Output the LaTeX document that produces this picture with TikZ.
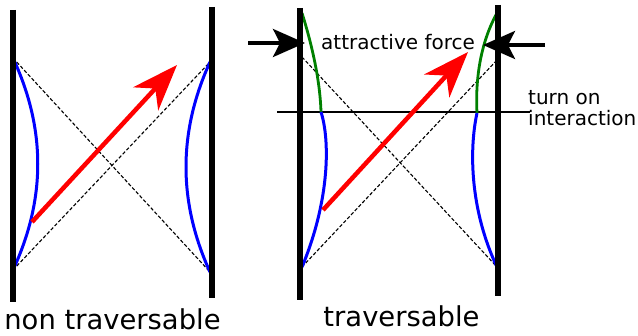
\documentclass[tikz,border=0pt]{standalone}
\usepackage{fontspec}
\setmainfont{DejaVu Sans}
\usetikzlibrary{arrows.meta}

\begin{document}
\begin{tikzpicture}[x=1pt, y=-1pt,
  wall/.style={line width=6pt},
  horizon/.style={dash pattern=on 3.5pt off 2pt, line width=1.1pt},
  bluecurve/.style={blue, line width=3pt},
  greencurve/.style={green!50!black, line width=2.8pt},
  signal/.style={red, line width=4.5pt, -{Stealth[length=46pt, width=34pt, inset=14pt]}},
  push/.style={line width=3.5pt, -{Stealth[length=32pt, width=28pt, inset=7pt]}},
  biglabel/.style={font=\fontsize{27.4}{32}\selectfont, inner sep=0pt},
  smalllabel/.style={font=\fontsize{20}{24}\selectfont, inner sep=0pt}]
  \useasboundingbox (0,0) rectangle (638,336);
  % non traversable
  \coordinate (nlt) at (13,10);  \coordinate (nlb) at (13,302);
  \coordinate (nrt) at (212,7);  \coordinate (nrb) at (212,298);
  \coordinate (nla) at (13,58);  \coordinate (nlz) at (13,270);
  \coordinate (nra) at (210,62); \coordinate (nrz) at (210,272);
  \draw[horizon] (nla) -- (nrz);
  \draw[horizon] (nlz) -- (nra);
  \draw[bluecurve] (nla) .. controls (46,129) and (46,199) .. (nlz);
  \draw[bluecurve] (nra) .. controls (178,132) and (178,202) .. (nrz);
  \draw[wall] (nlt) -- (nlb);
  \draw[wall] (nrt) -- (nrb);
  \coordinate (nsig) at (32,222); \coordinate (nsigend) at (177,65);
  \draw[signal] (nsig) -- (nsigend);
  \node[biglabel, anchor=base] (nontrav) at (112.5,330) {non traversable};
  % traversable
  \coordinate (tlt) at (300,8);  \coordinate (tlb) at (300,300);
  \coordinate (trt) at (498,5);  \coordinate (trb) at (498,296);
  \coordinate (tla) at (302,57); \coordinate (tlz) at (302,267);
  \coordinate (tra) at (497,60); \coordinate (trz) at (497,267);
  \coordinate (tgl) at (302,13); \coordinate (tgr) at (497,13);
  \coordinate (tol) at (321,112); \coordinate (tor) at (477,113);
  \draw[horizon] (tla) -- (trz);
  \draw[horizon] (tlz) -- (tra);
  \coordinate (onl) at (277,112); \coordinate (onr) at (530,112);
  \draw[line width=1.4pt] (onl) -- (onr);
  \draw[greencurve] (tgl) .. controls (312,45) and (320,80) .. (tol);
  \draw[bluecurve] (tol) .. controls (330,140) and (330,200) .. (tlz);
  \draw[greencurve] (tgr) .. controls (482,40) and (475,75) .. (tor);
  \draw[bluecurve] (tor) .. controls (469,150) and (470,210) .. (trz);
  \draw[wall] (tlt) -- (tlb);
  \draw[wall] (trt) -- (trb);
  \coordinate (tsig) at (323,210); \coordinate (tsigend) at (468,52);
  \draw[signal] (tsig) -- (tsigend);
  \coordinate (pushl) at (248,43); \coordinate (pushlend) at (305,43);
  \coordinate (pushr) at (545,45); \coordinate (pushrend) at (483,45);
  \draw[push] (pushl) -- (pushlend);
  \draw[push] (pushr) -- (pushrend);
  \node[smalllabel, anchor=base west] (force) at (321,50) {attractive force};
  \node[smalllabel, anchor=base west] (turnon) at (528,105) {turn on};
  \node[smalllabel, anchor=base west] (interact) at ([yshift=-21pt]turnon.base west) {interaction};
  \node[biglabel, anchor=base] (trav) at (401.5,327) {traversable};
\end{tikzpicture}
\end{document}
